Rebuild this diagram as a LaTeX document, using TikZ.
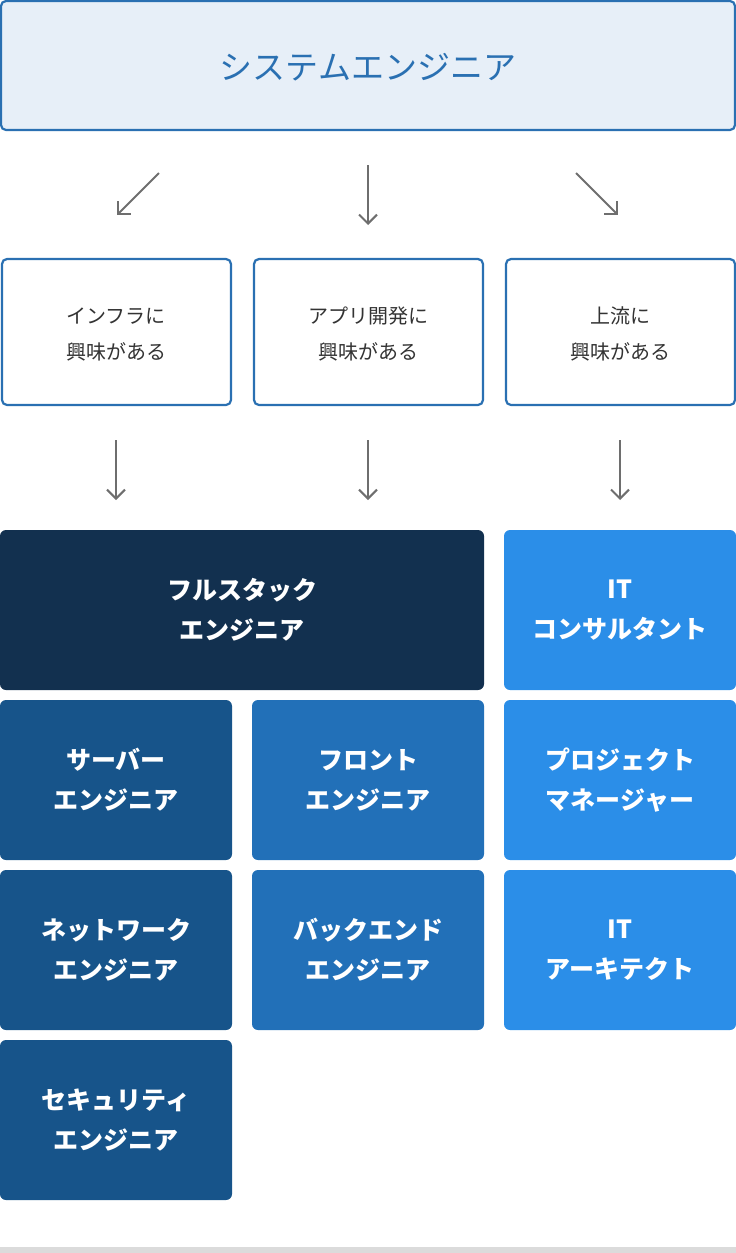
\documentclass[tikz,border=0pt]{standalone}
\usepackage{fontspec}
\setmainfont{Noto Sans CJK JP}
\usetikzlibrary{arrows.meta}
\definecolor{topfill}{HTML}{E7EFF8}
\definecolor{topblue}{HTML}{2A70B2}
\definecolor{navy}{HTML}{12304F}
\definecolor{midblue}{HTML}{17548A}
\definecolor{blue2}{HTML}{2270B8}
\definecolor{sky}{HTML}{2B8EE8}
\definecolor{arrgray}{HTML}{6E6E6E}
\begin{document}
\begin{tikzpicture}[x=1pt,y=-1pt,
  topbox/.style={draw=topblue,line width=2.2pt,fill=topfill,rounded corners=5pt},
  midbox/.style={draw=topblue,line width=2.2pt,fill=white,rounded corners=5pt},
  solid box/.style={rounded corners=6pt},
  lbl/.style={font=\fontsize{20}{36}\selectfont,text=black!80,align=center},
  wlbl/.style={font=\fontsize{25}{40}\selectfont\bfseries,text=white,align=center},
  arr/.style={draw=arrgray,line width=2pt,-{Straight Barb[length=9pt,width=18pt]}}]
\useasboundingbox (0,0) rectangle (736,1253);
\fill[black!14] (0,1247) rectangle (736,1253);
% top
\draw[topbox] (1,1) rectangle (735,130);
\node[font=\fontsize{33}{40}\selectfont,text=topblue] (top) at (368,67) {システムエンジニア};
% middle boxes
\draw[midbox] (2,259) rectangle (231,405);
\draw[midbox] (254,259) rectangle (483,405);
\draw[midbox] (506,259) rectangle (735,405);
\node[lbl] (m1) at (116,334) {インフラに\\興味がある};
\node[lbl] (m2) at (368,334) {アプリ開発に\\興味がある};
\node[lbl] (m3) at (620,334) {上流に\\興味がある};
% arrows
\coordinate (a1s) at (159,173); \coordinate (a1e) at (117,215);
\coordinate (a2s) at (368,165); \coordinate (a2e) at (368,225);
\coordinate (a3s) at (576,173); \coordinate (a3e) at (618,215);
\draw[arr] (a1s) -- (a1e);
\draw[arr] (a2s) -- (a2e);
\draw[arr] (a3s) -- (a3e);
\coordinate (b1s) at (116,440); \coordinate (b1e) at (116,500);
\coordinate (b2s) at (368,440); \coordinate (b2e) at (368,500);
\coordinate (b3s) at (620,440); \coordinate (b3e) at (620,500);
\draw[arr] (b1s) -- (b1e);
\draw[arr] (b2s) -- (b2e);
\draw[arr] (b3s) -- (b3e);
% solid boxes
\fill[solid box,navy] (0,530) rectangle (484,690);
\node[wlbl] (fs) at (242,610) {フルスタック\\エンジニア};
\fill[solid box,sky] (504,530) rectangle (736,690);
\node[wlbl] (itc) at (620,610) {IT\\コンサルタント};
\fill[solid box,midblue] (0,700) rectangle (232,860);
\node[wlbl] (sv) at (116,780) {サーバー\\エンジニア};
\fill[solid box,blue2] (252,700) rectangle (484,860);
\node[wlbl] (fr) at (368,780) {フロント\\エンジニア};
\fill[solid box,sky] (504,700) rectangle (736,860);
\node[wlbl] (pm) at (620,780) {プロジェクト\\マネージャー};
\fill[solid box,midblue] (0,870) rectangle (232,1030);
\node[wlbl] (nw) at (116,950) {ネットワーク\\エンジニア};
\fill[solid box,blue2] (252,870) rectangle (484,1030);
\node[wlbl] (be) at (368,950) {バックエンド\\エンジニア};
\fill[solid box,sky] (504,870) rectangle (736,1030);
\node[wlbl] (ita) at (620,950) {IT\\アーキテクト};
\fill[solid box,midblue] (0,1040) rectangle (232,1200);
\node[wlbl] (sec) at (116,1120) {セキュリティ\\エンジニア};
\end{tikzpicture}
\end{document}
